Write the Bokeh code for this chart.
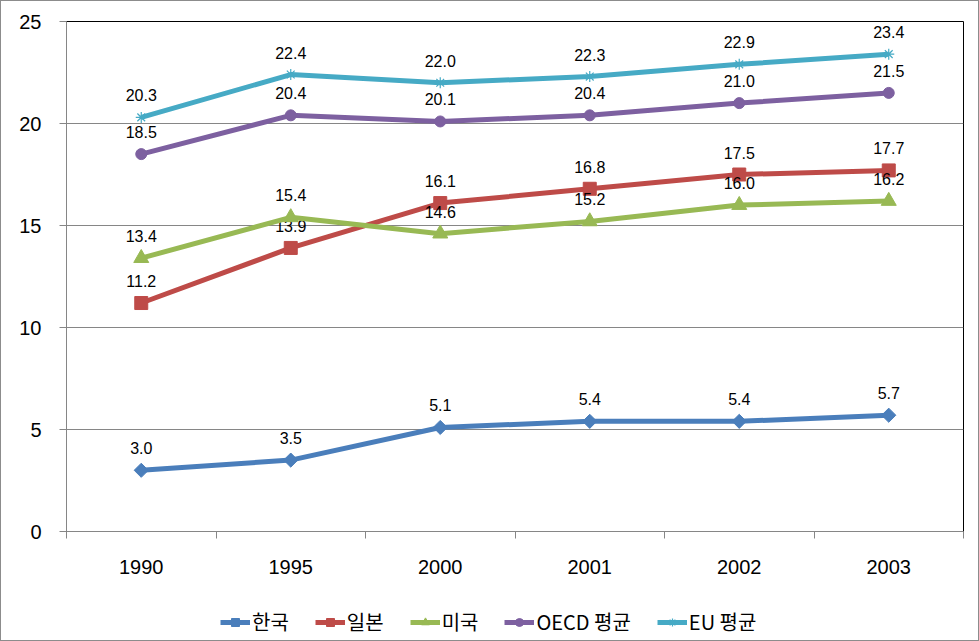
import math
from bokeh.plotting import figure
from bokeh.layouts import column
from bokeh.models import ColumnDataSource, FixedTicker, Legend, LegendItem, Range1d
from bokeh.core.properties import value
from bokeh.embed import file_html
from bokeh.resources import INLINE

years = ["1990", "1995", "2000", "2001", "2002", "2003"]
korea = [3.0, 3.5, 5.1, 5.4, 5.4, 5.7]
japan = [11.2, 13.9, 16.1, 16.8, 17.5, 17.7]
usa = [13.4, 15.4, 14.6, 15.2, 16.0, 16.2]
oecd = [18.5, 20.4, 20.1, 20.4, 21.0, 21.5]
eu = [20.3, 22.4, 22.0, 22.3, 22.9, 23.4]
names = ["한국", "일본", "미국", "OECD 평균", "EU 평균"]
y_ticks = [0, 5, 10, 15, 20, 25]

FONT = "Liberation Sans"
KFONT = "Noto Sans CJK KR"
BORDER = "1px solid #8c8c8c"

p = figure(width=979, height=590, output_backend="svg", toolbar_location=None,
           x_range=Range1d(0, len(years)), y_range=Range1d(0, 25),
           min_border_left=65, min_border_right=17, min_border_top=20, min_border_bottom=60)
p.styles = {"border-top": BORDER, "border-left": BORDER, "border-right": BORDER,
            "box-sizing": "border-box"}
p.outline_line_color = "black"
p.outline_line_width = 1
p.xgrid.grid_line_color = None
p.ygrid.grid_line_color = "#868686"
p.ygrid.ticker = FixedTicker(ticks=y_ticks)

xs = [i + 0.5 for i in range(len(years))]
p.xaxis.ticker = FixedTicker(ticks=xs, minor_ticks=list(range(len(years) + 1)))
p.xaxis.major_label_overrides = {x: y for x, y in zip(xs, years)}
p.xaxis.major_tick_line_color = None
p.xaxis.minor_tick_line_color = "#868686"
p.xaxis.minor_tick_out = 7
p.xaxis.minor_tick_in = 0
p.xaxis.axis_line_color = "#868686"
p.xaxis.major_label_standoff = 21
p.xaxis.major_label_text_font = FONT
p.xaxis.major_label_text_font_size = "20px"
p.xaxis.major_label_text_color = "black"

p.yaxis.ticker = FixedTicker(ticks=y_ticks)
p.yaxis.minor_tick_line_color = None
p.yaxis.major_tick_line_color = "#868686"
p.yaxis.major_tick_out = 7
p.yaxis.major_tick_in = 0
p.yaxis.axis_line_color = "#868686"
p.yaxis.major_label_standoff = 18
p.yaxis.major_label_text_font = FONT
p.yaxis.major_label_text_font_size = "20px"
p.yaxis.major_label_text_color = "black"

# legend strip below the chart (its renderers share the data but lie outside its view)
lg = figure(width=979, height=51, output_backend="svg", toolbar_location=None,
            x_axis_type=None, y_axis_type=None, min_border=0,
            x_range=Range1d(100, 101), y_range=Range1d(100, 101))
lg.styles = {"border-bottom": BORDER, "border-left": BORDER, "border-right": BORDER,
             "box-sizing": "border-box"}
lg.outline_line_color = None
lg.grid.visible = False

series = [
    (korea, "#4A7EBB", "square", 10, math.pi / 4),
    (japan, "#BE4B48", "square", 13, 0),
    (usa, "#98B954", "triangle", 15, 0),
    (oecd, "#7D60A0", "circle", 11, 0),
    (eu, "#46AAC5", "asterisk", 11, 0),
]
items = []
for (vals, color, marker, size, ang), name in zip(series, names):
    src = ColumnDataSource(dict(x=xs, y=vals, lab=[f"{v:.1f}" for v in vals]))
    rs = []
    for fig in (p, lg):
        r1 = fig.line("x", "y", source=src, line_color=color, line_width=5)
        if marker == "asterisk":
            r2 = fig.scatter("x", "y", source=src, marker=marker, size=size,
                             line_color=color, line_width=1.2)
        else:
            r2 = fig.scatter("x", "y", source=src, marker=marker, size=size, angle=ang,
                             fill_color=color, line_color=color)
        rs = [r1, r2]
    p.text("x", "y", text="lab", source=src, y_offset=-22, text_align="center", text_baseline="middle",
           text_font=value(FONT), text_font_size="16px", text_color="black")
    items.append(LegendItem(label=name, renderers=rs))

legend = Legend(items=items, orientation="horizontal", location=(154, 5),
                label_text_font=KFONT, label_text_font_size="20px", label_text_color="black",
                glyph_width=30, glyph_height=20, label_height=20, spacing=26, label_standoff=2,
                padding=0, margin=0, border_line_color=None, background_fill_alpha=0)
lg.add_layout(legend, "center")

layout = column(p, lg, spacing=0)
open("out.html", "w").write(file_html(layout, INLINE))
